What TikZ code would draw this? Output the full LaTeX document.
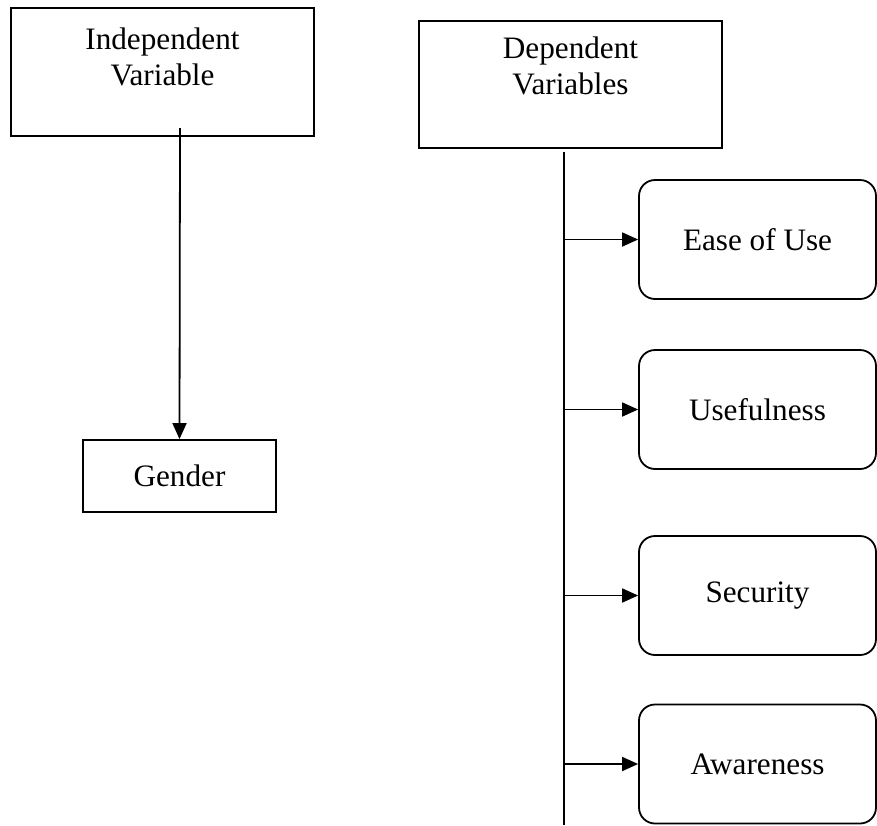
\documentclass[tikz,border=0pt]{standalone}
\usepackage{fontspec}
\setmainfont{Liberation Serif}
\usetikzlibrary{arrows.meta, positioning}

\begin{document}
\begin{tikzpicture}[x=0.5pt, y=-0.5pt,
    box/.style={draw, line width=0.9pt},
    head box/.style={box, minimum width=151.5pt, minimum height=64pt},
    head text/.style={anchor=north, align=center, font=\fontsize{15.6}{18}\selectfont},
    var box/.style={box, font=\fontsize{15.6}{18}\selectfont},
    dim box/.style={var box, rounded corners=8pt, minimum width=118.5pt, minimum height=59.5pt},
    link/.style={line width=0.9pt, -{Triangle[length=8pt, width=7pt]}}]

    \useasboundingbox (0,0) rectangle (877,825);

    % Independent side
    \node[head box] (indep) at (162.5,72) {};
    \node[head text, below=7pt of indep.north] (indep-text) {Independent\\Variable};
    \node[var box, minimum width=96.5pt, minimum height=36pt] (gender) at (179.5,476) {Gender};
    \coordinate (indep-foot) at (180,128);
    \draw[link] (indep-foot) -- (gender.north);

    % Dependent side
    \node[head box, minimum height=63.5pt] (dep) at (570.5,84.5) {};
    \node[head text, below=5pt of dep.north] (dep-text) {Dependent\\Variables};
    \coordinate (spine-top) at (564,152);
    \coordinate (spine-end) at (564,825);
    \draw[line width=0.9pt] (spine-top) -- (spine-end);

    \node[dim box] (ease) at (757.5,239.5) {Ease of Use};
    \node[dim box] (useful) at (757.5,409.5) {Usefulness};
    \node[dim box] (security) at (757.5,595.5) {Security};
    \node[dim box] (aware) at (757.5,764) {Awareness};

    % Branch arrows
    \foreach \n in {ease, useful, security, aware} {
        \draw[link] (spine-top |- \n.west) -- (\n.west);
    }
\end{tikzpicture}
\end{document}
